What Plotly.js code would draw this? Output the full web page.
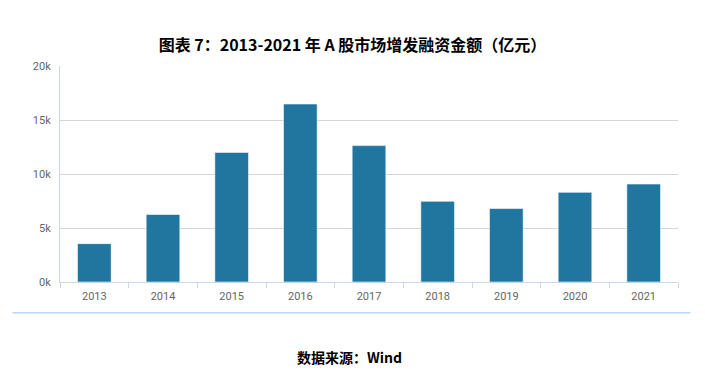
<!DOCTYPE html>
<html>
<head>
<meta charset="utf-8">
<script src="https://cdn.plot.ly/plotly-3.0.1.min.js"></script>
<style>html,body{margin:0;padding:0;background:#fff;}#chart{width:705px;height:382px;}</style>
</head>
<body>
<div id="chart"></div>
<script>
var years = ["2013","2014","2015","2016","2017","2018","2019","2020","2021"];
var amounts = [3550, 6250, 12000, 16480, 12630, 7470, 6800, 8300, 9070];
var yTickVals = [0, 5000, 10000, 15000, 20000];
var yTickText = ["0k", "5k", "10k", "15k", "20k"];
var titleText = "图表 7：2013-2021 年 A 股市场增发融资金额（亿元）";
var sourceText = "数据来源：Wind";

var trace = {
  type: "bar",
  x: years,
  y: amounts,
  marker: {color: "#21769f", line: {color: "rgba(255,255,255,0.55)", width: 1}},
  hoverinfo: "x+y"
};

var layout = {
  width: 705, height: 382,
  margin: {l: 60, r: 27, t: 66, b: 100},
  paper_bgcolor: "#fff", plot_bgcolor: "#fff",
  showlegend: false,
  bargap: 0.51,
  title: {text: titleText, x: 0.5, xanchor: "center", y: 0.882, yanchor: "middle",
          font: {family: "Noto Sans CJK SC", size: 16, color: "#000", weight: "bold"}},
  xaxis: {
    type: "category",
    tickmode: "array", tickvals: years, ticktext: years,
    showline: true, linecolor: "#ccd6eb", linewidth: 1,
    ticks: "outside", ticklen: 5, tickcolor: "#ccd6eb", tickson: "boundaries",
    ticklabelstandoff: 4,
    showgrid: false,
    tickfont: {family: "Roboto, Noto Sans", size: 11, color: "#666"},
    fixedrange: true
  },
  yaxis: {
    range: [0, 20000],
    tickmode: "array", tickvals: yTickVals, ticktext: yTickText,
    showline: true, linecolor: "#ccd6eb", linewidth: 1,
    showgrid: true, gridcolor: "#d6d6d6", gridwidth: 1,
    zeroline: false,
    ticks: "", ticklen: 0,
    ticklabelstandoff: 6,
    tickfont: {family: "Roboto, Noto Sans", size: 11, color: "#666"},
    fixedrange: true
  },
  shapes: [
    {type: "line", xref: "paper", yref: "paper",
     x0: -0.077, x1: 1.02, y0: -0.143, y1: -0.143,
     line: {color: "#9fbdf2", width: 1}}
  ],
  annotations: [
    {text: sourceText, xref: "paper", yref: "paper", x: 0.468, y: -0.345,
     xanchor: "center", yanchor: "middle", showarrow: false,
     font: {family: "Noto Sans CJK SC", size: 14, color: "#000", weight: "bold"}}
  ]
};

Plotly.newPlot("chart", [trace], layout, {displayModeBar: false, staticPlot: true});
</script>
</body>
</html>
